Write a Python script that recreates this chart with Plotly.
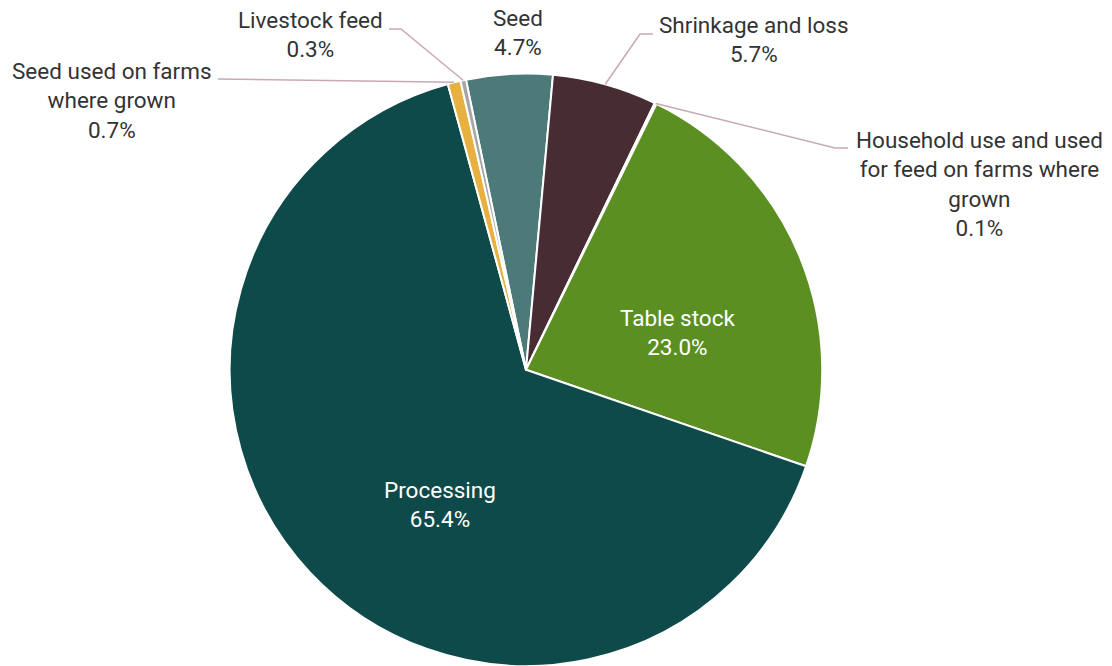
import math
import plotly.graph_objects as go

# ---- data ----
categories = ["Seed", "Shrinkage and loss", "Household use and used for feed on farms where grown",
              "Table stock", "Processing", "Seed used on farms where grown", "Livestock feed"]
label_text = ["Seed", "Shrinkage and loss", "Household use and used<br>for feed on farms where<br>grown",
              "Table stock", "Processing", "Seed used on farms<br>where grown", "Livestock feed"]
shares = [4.7, 5.7, 0.1, 23.0, 65.4, 0.7, 0.3]
colors = ["#4C7A78", "#472D33", "#BFD8DF", "#5B8F22", "#0E4A4A", "#E8B040", "#A6A6A6"]

W, H = 1112, 666
CX, CY, R = 526, 370, 296.5
ROT = -11.7

fig = go.Figure(go.Pie(
    labels=categories, values=shares, sort=False, direction="clockwise", rotation=ROT,
    marker=dict(colors=colors, line=dict(color="white", width=2)),
    textinfo="none", hoverinfo="label+percent", showlegend=False,
    domain=dict(x=[(CX - R) / W, (CX + R) / W], y=[max(0, 1 - (CY + R) / H), 1 - (CY - R) / H]),
))

def px(x, y):
    return x / W, 1 - y / H

# label centres (pixels) and colour of text
label_pos = {
    0: (518, 32, "#333333"),
    1: (754, 40, "#333333"),
    2: (979, 184, "#333333"),
    3: (677, 332, "white"),
    4: (440, 505, "white"),
    5: (112, 101, "#333333"),
    6: (310, 35, "#333333"),
}
for i, (x, y, c) in label_pos.items():
    ax, ay = px(x, y)
    fig.add_annotation(x=ax, y=ay, xref="paper", yref="paper", showarrow=False,
                       text=f"{label_text[i]}<br>{shares[i]:.1f}%", xanchor="center", yanchor="middle",
                       font=dict(family="Roboto, Arial", size=22.5, color=c), align="center",
                       borderpad=0)

# leader lines: elbow points (pixels) then slice edge at slice mid-angle
total = sum(shares)
mids = []
acc = ROT
for v in shares:
    a = v / total * 360
    mids.append(acc + a / 2)
    acc += a

def edge(i):
    t = math.radians(mids[i])
    return CX + R * math.sin(t), CY - R * math.cos(t)

leaders = {
    1: [(653, 34), (640, 34)],
    2: [(848, 148), (835, 148)],
    5: [(218, 79)],
    6: [(389, 29), (401, 29)],
}
for i, pts in leaders.items():
    pts = pts + [edge(i)]
    path = ""
    for k, (x, y) in enumerate(pts):
        a, b = px(x, y)
        path += ("M" if k == 0 else " L") + f" {a:.5f} {b:.5f}"
    fig.add_shape(type="path", path=path, xref="paper", yref="paper",
                  line=dict(color="#C9A9B1", width=1.5))

fig.update_layout(width=W, height=H, margin=dict(l=0, r=0, t=0, b=0),
                  paper_bgcolor="white", plot_bgcolor="white")
fig.write_html("out.html", config={"displayModeBar": False},
               post_script="document.body.style.margin='0';document.body.style.overflow='hidden';")
